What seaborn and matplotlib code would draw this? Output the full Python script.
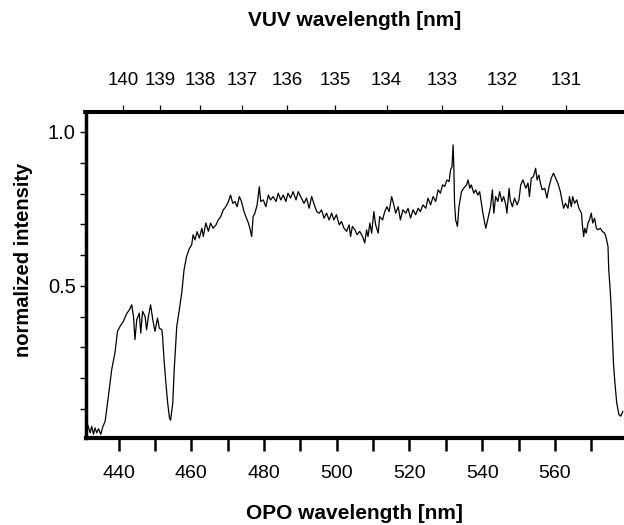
import matplotlib
matplotlib.use("Agg")
import matplotlib.pyplot as plt
import seaborn as sns
import numpy as np
import pandas as pd
from matplotlib.ticker import MultipleLocator, FixedLocator, NullFormatter

# ---- data ----
opo_nm = [
    430.8, 431.3, 432.2, 432.6, 433.1, 433.5, 434.0, 434.5, 435.1, 435.7, 436.3,
    437.2, 438.1, 439.0, 439.7, 440.4, 441.3, 442.3, 443.0, 443.6, 444.1, 444.5,
    445.0, 445.7, 446.1, 446.6, 447.3, 447.7, 448.2, 448.8, 449.4, 450.0, 450.7,
    451.2, 451.9, 452.1, 452.5, 453.0, 453.5, 454.0, 454.3, 454.9, 455.3, 456.0,
    456.7,
    457.4, 458.0, 458.7, 459.5, 460.1, 460.5, 461.0, 461.6, 462.2, 462.9, 463.3,
    464.0, 464.7, 465.3, 466.0, 466.8, 467.4, 468.1, 468.8, 469.5, 470.2, 470.8,
    471.4, 472.0, 472.6, 473.2, 473.8, 474.5, 475.0, 475.7, 476.1, 476.6, 477.0,
    477.5, 478.1, 478.7, 479.1, 479.8, 480.5, 481.2, 481.8, 482.5, 483.3, 483.9,
    484.6, 485.3, 486.0, 486.6, 487.3, 488.0, 488.8, 489.4,
    490.3, 491.0, 491.7, 492.4, 493.1, 493.7, 494.5, 495.2, 495.8, 496.5, 497.2,
    497.9, 498.6, 499.2, 499.9, 500.7, 501.3, 502.0, 502.7, 503.4, 503.8, 504.3,
    505.0, 505.6, 506.3, 507.1, 507.7, 508.2, 508.6, 509.1, 509.6, 510.2, 510.7,
    511.4, 511.8, 512.6, 513.2, 513.8, 514.4, 515.1, 515.7, 516.2, 516.9, 517.5,
    518.2, 519.0, 519.6, 520.3, 521.0, 521.7, 522.4, 523.0,
    523.7, 524.5, 525.1, 525.8, 526.5, 527.2, 527.9, 528.5, 529.1, 529.7, 530.3,
    530.9, 531.3, 531.7, 532.0, 532.2, 532.4, 532.7, 533.2, 533.6, 534.3, 534.9,
    535.7, 536.1, 536.6, 537.0, 537.7, 538.2, 538.8, 539.3, 539.8, 540.2, 540.7,
    541.0, 541.6, 542.3, 542.8, 543.2, 543.7, 544.3, 544.8, 545.4, 545.9, 546.5,
    546.8, 547.4, 547.7, 548.3, 548.9, 549.6, 550.1, 550.6, 551.2, 552.0, 552.6,
    553.0, 553.5, 554.1, 554.7, 555.1, 555.6,
    556.0, 556.5, 557.2, 557.8, 558.4, 559.0, 559.6, 560.2, 560.8, 561.5, 562.0,
    562.4, 562.9, 563.6, 564.0, 564.5, 564.9, 565.4, 566.0, 566.6, 567.3, 567.5,
    567.9, 568.2, 568.6, 569.1, 569.5, 570.0, 570.4, 570.9, 571.4, 571.8, 572.5,
    573.0, 573.7, 574.1, 574.6, 574.8, 575.2, 575.5, 575.8, 576.1, 576.5, 577.0,
    577.6, 578.1, 578.7,
]
intensity = [
    0.107, 0.055, 0.022, 0.043, 0.017, 0.038, 0.022, 0.035, 0.017, 0.043, 0.059,
    0.141, 0.227, 0.282, 0.352, 0.368, 0.384, 0.411, 0.422, 0.438, 0.400, 0.325,
    0.390, 0.411, 0.346, 0.417, 0.400, 0.357, 0.400, 0.438, 0.390, 0.352, 0.395,
    0.362, 0.357, 0.335, 0.260, 0.185, 0.119, 0.070, 0.063, 0.119, 0.227, 0.368,
    0.422,
    0.480, 0.552, 0.595, 0.622, 0.633, 0.666, 0.649, 0.676, 0.655, 0.687, 0.660,
    0.704, 0.677, 0.704, 0.687, 0.698, 0.714, 0.725, 0.747, 0.757, 0.774, 0.795,
    0.768, 0.774, 0.757, 0.790, 0.774, 0.741, 0.725, 0.704, 0.687, 0.660, 0.725,
    0.736, 0.763, 0.822, 0.774, 0.779, 0.757, 0.795, 0.779, 0.790, 0.774, 0.801,
    0.779, 0.795, 0.774, 0.801, 0.785, 0.806, 0.779, 0.806,
    0.785, 0.768, 0.785, 0.752, 0.790, 0.768, 0.741, 0.736, 0.747, 0.720, 0.736,
    0.714, 0.736, 0.714, 0.731, 0.698, 0.709, 0.687, 0.677, 0.698, 0.660, 0.693,
    0.682, 0.666, 0.677, 0.660, 0.639, 0.682, 0.660, 0.704, 0.671, 0.741, 0.698,
    0.671, 0.725, 0.714, 0.741, 0.757, 0.741, 0.790, 0.763, 0.736, 0.757, 0.714,
    0.747, 0.736, 0.752, 0.720, 0.747, 0.731, 0.752, 0.741,
    0.763, 0.752, 0.785, 0.763, 0.790, 0.774, 0.812, 0.801, 0.828, 0.823, 0.844,
    0.839, 0.877, 0.887, 0.958, 0.887, 0.768, 0.714, 0.693, 0.757, 0.806, 0.817,
    0.828, 0.844, 0.817, 0.828, 0.801, 0.812, 0.795, 0.806, 0.768, 0.736, 0.704,
    0.687, 0.720, 0.757, 0.812, 0.736, 0.790, 0.774, 0.806, 0.774, 0.790, 0.763,
    0.736, 0.817, 0.779, 0.757, 0.785, 0.763, 0.779, 0.828, 0.844, 0.817, 0.834,
    0.790, 0.850, 0.855, 0.882, 0.844, 0.860,
    0.834, 0.812, 0.817, 0.785, 0.823, 0.850, 0.866, 0.850, 0.834, 0.806, 0.774,
    0.752, 0.768, 0.752, 0.790, 0.757, 0.790, 0.768, 0.779, 0.752, 0.736, 0.704,
    0.660, 0.687, 0.671, 0.704, 0.714, 0.736, 0.704, 0.720, 0.687, 0.682, 0.687,
    0.677, 0.671, 0.655, 0.628, 0.552, 0.487, 0.422, 0.335, 0.249, 0.184, 0.119,
    0.081, 0.076, 0.092,
]
vuv_ticks = [131, 132, 133, 134, 135, 136, 137, 138, 139, 140]
opo_ticks = [440, 460, 480, 500, 520, 540, 560]
y_ticks = [0.5, 1.0]
y_ticklabels = ["0.5", "1.0"]
KR_TWO_PHOTON_NM = 212.556  # 2*omega(UV) - omega(OPO) -> VUV

df = pd.DataFrame({"opo": opo_nm, "intensity": intensity})

sns.set_theme(style="ticks")
plt.rcParams["font.family"] = ["Liberation Sans", "DejaVu Sans"]
plt.rcParams["text.color"] = "black"
plt.rcParams["axes.labelcolor"] = "black"

W, H = 624, 525
left_px, right_px, top_px, bottom_px = 85.5, 624, 112, 438
fig = plt.figure(figsize=(W / 100, H / 100), dpi=100)
ax = fig.add_axes([left_px / W, 1 - bottom_px / H,
                   (right_px - left_px) / W, (bottom_px - top_px) / H])

sns.lineplot(data=df, x="opo", y="intensity", ax=ax, color="black",
             linewidth=0.9, estimator=None, sort=False)

ax.set_xlim(430.9, 579.0)
ax.set_ylim(0.005, 1.065)

# bottom axis
ax.xaxis.set_major_locator(FixedLocator(opo_ticks))
ax.xaxis.set_minor_locator(MultipleLocator(10))
ax.tick_params(axis="x", which="both", direction="out", length=9.5, width=1.8,
               labelsize=14, pad=10, colors="black")
ax.set_xlabel("OPO wavelength [nm]", fontsize=15, fontweight="bold",
              labelpad=16, color="black")

# left axis
ax.yaxis.set_major_locator(FixedLocator(y_ticks))
ax.set_yticklabels(y_ticklabels)
ax.yaxis.set_minor_locator(MultipleLocator(0.1))
ax.tick_params(axis="y", which="both", direction="out", length=4, width=1.0,
               labelsize=14.5, pad=3, colors="black")
ax.set_ylabel("normalized intensity", fontsize=14.5, fontweight="bold", color="black")
ax.yaxis.set_label_coords(-0.0966, 0.546)

for side, lw in [("left", 2.5), ("bottom", 3.0), ("top", 2.9)]:
    ax.spines[side].set_linewidth(lw)
    ax.spines[side].set_color("black")
ax.spines["right"].set_visible(False)


def opo_to_vuv(x):
    x = np.asarray(x, dtype=float)
    with np.errstate(divide="ignore", invalid="ignore"):
        return 1.0 / (2.0 / KR_TWO_PHOTON_NM - 1.0 / x)


top = ax.secondary_xaxis("top", functions=(opo_to_vuv, opo_to_vuv))
top.xaxis.set_major_locator(FixedLocator(vuv_ticks))
top.xaxis.set_minor_formatter(NullFormatter())
top.tick_params(axis="x", which="major", direction="out", length=5, width=0.9,
                labelsize=13.5, pad=11.5, colors="black")
top.tick_params(axis="x", which="minor", length=0)
top.set_xlabel("VUV wavelength [nm]", fontsize=15, fontweight="bold",
               labelpad=33, color="black")
top.spines["top"].set_linewidth(2.9)

fig.savefig("out.png", dpi=100, facecolor="white")
